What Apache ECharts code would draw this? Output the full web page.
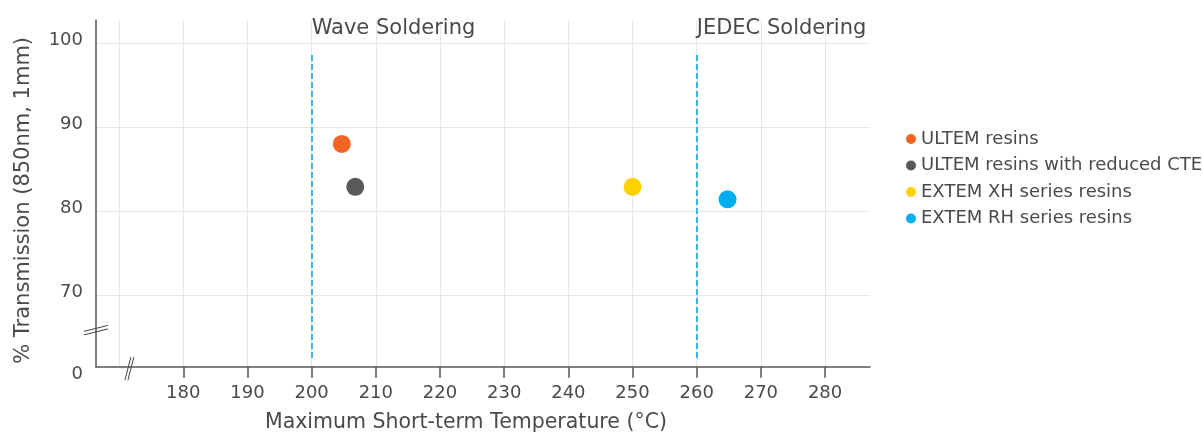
<!DOCTYPE html>
<html>
<head>
<meta charset="utf-8">
<script src="https://cdn.jsdelivr.net/npm/echarts@6/dist/echarts.min.js"></script>
<style>
html,body{margin:0;padding:0;background:#fff;}
#chart{width:1203px;height:439px;}
</style>
</head>
<body>
<div id="chart"></div>
<script>
// ---- data ----
const seriesNames = ['ULTEM resins', 'ULTEM resins with reduced CTE', 'EXTEM XH series resins', 'EXTEM RH series resins'];
const seriesX = [204.7, 206.8, 250, 264.8];
const seriesY = [88.0, 82.9, 82.9, 81.4];
const seriesColors = ['#F26522', '#58595B', '#FFD100', '#00AEEF'];

const xTickValues = [180, 190, 200, 210, 220, 230, 240, 250, 260, 270, 280];
const xGridValues = [170, 180, 190, 200, 210, 220, 230, 240, 250, 260, 270, 280];
const yTickValues = [70, 80, 90, 100];
const yBottomLabel = '0';

const xMin = 166.4, xMax = 287.0;
const yMin = 61.45, yMax = 102.78;

const refLinesX = [200, 260];
const refLineTop = 98.6, refLineBottom = 62.5;
const refLabels = ['Wave Soldering', 'JEDEC Soldering'];
const refLabelY = 101.8;

const xBreakAt = 171.6;
const yBreakAt = 65.8;

const textColor = '#4A4A4C';
const fontFamily = '"DejaVu Sans", sans-serif';

const chart = echarts.init(document.getElementById('chart'), null, {renderer: 'canvas'});

const pointSeries = seriesNames.map((n, i) => ({
  name: n,
  type: 'scatter',
  xAxisIndex: 0,
  yAxisIndex: 0,
  symbol: 'circle',
  symbolSize: 18,
  itemStyle: {color: seriesColors[i], opacity: 1},
  data: [[seriesX[i], seriesY[i]]],
  z: 5
}));

const option = {
  animation: false,
  textStyle: {fontFamily: fontFamily},
  grid: {left: 96, right: 333, top: 20, bottom: 439 - 366.7, containLabel: false},
  legend: {
    data: seriesNames,
    orient: 'vertical',
    left: 901,
    top: 124,
    itemWidth: 10,
    itemHeight: 10,
    itemGap: 6.5,
    itemTextGap: 7,
    icon: 'circle',
    textStyle: {color: textColor, fontSize: 18, lineHeight: 20, fontFamily: fontFamily}
  },
  xAxis: [{
    type: 'value',
    min: xMin, max: xMax,
    position: 'bottom',
    name: 'Maximum Short-term Temperature (°C)',
    nameLocation: 'middle',
    nameGap: 45,
    nameTextStyle: {color: textColor, fontSize: 20.5, fontFamily: fontFamily, padding: [0, 34, 0, 0]},
    axisLine: {show: true, lineStyle: {color: '#555', width: 1.5}},
    axisTick: {show: true, length: 11, customValues: xTickValues, lineStyle: {color: '#555', width: 1.5}},
    axisLabel: {show: true, customValues: xTickValues, margin: 18, color: textColor, fontSize: 18, fontFamily: fontFamily},
    splitLine: {show: false}
  }, {
    type: 'value',
    min: xMin, max: xMax,
    position: 'bottom',
    axisLine: {show: false},
    axisTick: {show: false, customValues: xGridValues},
    axisLabel: {show: false},
    splitLine: {show: true, lineStyle: {color: '#E6E6E6', width: 1}}
  }],
  yAxis: [{
    type: 'value',
    min: yMin, max: yMax,
    name: '% Transmission (850nm, 1mm)',
    nameLocation: 'middle',
    nameGap: 62,
    nameTextStyle: {color: textColor, fontSize: 21, fontFamily: fontFamily, padding: [0, 14, 0, 0]},
    axisLine: {show: true, lineStyle: {color: '#555', width: 1.5}},
    axisTick: {show: false, customValues: yTickValues},
    axisLabel: {
      show: true,
      customValues: [yMin].concat(yTickValues),
      margin: 13,
      color: textColor, fontSize: 18, fontFamily: fontFamily,
      formatter: v => (Math.abs(v - yMin) < 1e-6 ? '{z|' + yBottomLabel + '}' : '{n|' + v + '}'),
      rich: {
        n: {color: textColor, fontSize: 18, fontFamily: fontFamily, padding: [0, 0, 6, 0]},
        z: {color: textColor, fontSize: 18, fontFamily: fontFamily, padding: [16, 0, 0, 0]}
      }
    },
    splitLine: {show: true, lineStyle: {color: '#E6E6E6', width: 1}}
  }],
  series: pointSeries.concat([
    {
      name: 'refLines',
      type: 'scatter',
      symbolSize: 0,
      silent: true,
      clip: false,
      itemStyle: {opacity: 1},
      data: refLinesX.map((x, i) => ({value: [x, refLabelY], label: {formatter: refLabels[i]}})),
      label: {show: true, position: 'right', distance: 0, color: textColor, opacity: 1, fontSize: 21, fontFamily: fontFamily},
      markLine: {
        silent: true,
        symbol: ['none', 'none'],
        label: {show: false},
        lineStyle: {color: '#3DB5E6', width: 2, type: [6, 3], opacity: 1},
        data: refLinesX.map(x => [{coord: [x, refLineTop]}, {coord: [x, refLineBottom]}])
      }
    },
    {
      name: 'xBreak',
      type: 'scatter',
      silent: true,
      clip: false,
      symbol: 'path://M0,24 L6,0 M3,24 L9,0',
      symbolSize: [9, 23],
      symbolOffset: [0, 2],
      itemStyle: {color: 'rgba(0,0,0,0)', borderColor: '#444', borderWidth: 1.3, opacity: 1},
      data: [[xBreakAt, yMin]],
      z: 6
    },
    {
      name: 'yBreak',
      type: 'scatter',
      silent: true,
      clip: false,
      symbol: 'path://M0,6 L24,0 M0,9.5 L24,3.5',
      symbolSize: [24, 9.5],
      itemStyle: {color: 'rgba(0,0,0,0)', borderColor: '#444', borderWidth: 1.3, opacity: 1},
      data: [[xMin, yBreakAt]],
      z: 6
    }
  ])
};
chart.setOption(option);
</script>
</body>
</html>
